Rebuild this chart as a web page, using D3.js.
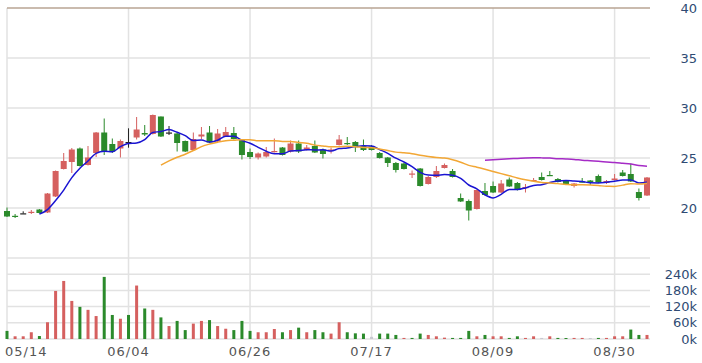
<!DOCTYPE html>
<head>
<meta charset="utf-8">
</head>
<style type="text/css">
  body { margin: 0; background: #fff; }
  svg { display: block; }
  .grid line { stroke: #e2e2e2; stroke-width: 1.5; }
  .ylab { font: 13px "DejaVu Sans", sans-serif; fill: #2f4b73; }
  .xlab { font: 13px "DejaVu Sans", sans-serif; fill: #555; letter-spacing: 1px; }
</style>
<body>
<div class="chart"></div>
<script src="https://d3js.org/d3.v7.min.js"></script>
<script>

// daily candles, 05/14 .. (80 sessions)
var openP  = [19.7,19.22,19.47,19.55,19.85,19.55,21.15,23.9,24.6,25.95,24.3,25.5,27.55,26.4,25.95,26.6,27.05,27.5,27.4,29.15,
              27.55,27.45,26.7,25.8,27.15,27.55,26.65,27.2,27.5,26.8,25.6,25.05,25.15,25.6,26.05,25.65,26.45,25.8,26.2,25.85,
              25.75,26.3,26.5,26.6,26.2,26.15,25.5,25.05,24.5,24.45,23.35,23.95,22.4,23.1,24.0,23.7,21.0,20.7,19.9,21.7,
              22.2,21.55,22.85,22.5,22.0,22.7,23.1,23.3,22.9,22.75,22.2,22.65,22.75,23.2,22.5,22.8,23.55,23.4,21.6,21.25];
var highP  = [20.05,19.4,19.67,19.8,19.9,21.5,23.75,25.5,26.0,26.05,26.2,27.6,28.95,26.95,26.85,27.97,29.1,28.3,29.35,29.15,
              28.2,27.5,26.75,27.55,28.1,28.2,27.9,28.1,28.1,26.85,25.95,25.55,26.1,26.95,26.1,26.75,26.75,26.3,26.75,25.95,
              26.05,27.3,27.1,26.7,26.85,26.3,25.6,25.1,24.6,24.5,23.75,24.0,23.2,24.2,24.45,23.9,21.45,20.85,21.85,22.5,
              22.65,22.8,23.05,22.6,22.4,23.0,23.55,23.7,23.0,22.8,22.5,23.0,22.8,23.35,22.8,23.4,23.8,24.45,21.95,23.1];
var lowP   = [19.1,19.0,19.45,19.4,19.45,19.5,21.1,23.85,23.5,24.15,24.25,25.1,25.3,25.5,25.05,26.03,26.85,27.2,27.35,27.1,
              27.3,25.65,25.6,25.75,26.9,26.5,26.6,27.15,26.85,24.85,24.9,24.85,25.05,25.55,25.25,25.55,25.5,25.75,25.5,24.95,
              25.45,26.25,26.3,25.6,25.7,25.75,24.95,24.1,23.55,23.85,23.0,22.15,22.35,23.0,23.95,23.05,20.6,18.75,19.85,21.25,
              21.5,21.5,22.1,21.75,21.55,22.6,22.75,23.2,22.55,22.3,22.05,22.55,22.3,22.5,22.4,22.75,23.15,22.6,20.75,21.2];
var closeP = [19.15,19.18,19.47,19.62,19.5,21.45,23.7,24.7,25.85,24.2,25.05,27.55,25.7,25.65,26.7,26.6,27.85,27.35,29.3,27.15,
              27.55,26.5,25.65,26.9,27.35,26.55,27.45,27.6,26.9,25.3,25.1,25.45,25.6,25.7,25.3,26.45,25.65,26.05,25.55,25.4,
              25.85,26.85,26.4,26.2,25.8,25.8,25.0,24.5,23.8,23.9,23.45,22.2,23.1,23.7,24.3,23.1,20.65,19.75,21.8,21.3,
              21.55,22.45,22.15,21.8,22.1,22.8,22.8,23.25,22.6,22.35,22.45,22.6,22.6,22.55,22.7,22.95,23.2,22.65,21.0,23.05];
// volume in thousands of shares
var volumeK = [30,10,10,25,11,62,178,215,141,119,108,85,230,89,75,89,198,113,108,80,
               48,67,33,57,67,70,48,38,33,67,30,25,25,37,25,33,42,25,33,25,
               20,62,25,21,20,8,20,20,15,4,4,20,15,10,5,4,4,30,10,15,
               10,10,4,10,4,10,4,10,4,2,4,4,2,4,4,10,10,35,15,15];

var tickIdx    = [0, 15, 30, 45, 60, 75];
var tickLabels = ["05/14", "06/04", "06/26", "07/17", "08/09", "08/30"];
var priceTicks = [20, 25, 30, 35, 40];
var volTicks   = [0, 60, 120, 180, 240];
var maSpans    = [5, 20, 60];
var maColors   = ["#1a14d2", "#f2a735", "#a52bc6"];

var W = 702, H = 363;
var left = 7, right = 650;

var data = closeP.map(function(c, i) {
    return {i: i, o: openP[i], h: highP[i], l: lowP[i], c: c, v: volumeK[i]};
});

var svg = d3.select(".chart").append("svg")
    .attr("width", W)
    .attr("height", H);

var x = d3.scaleLinear().domain([0, data.length - 1]).range([7, 647]);
var y = d3.scaleLinear().domain([20, 40]).range([208, 8]);
var yv = d3.scaleLinear().domain([0, 300]).range([339, 258]);

var up = "#d5605f", down = "#2b8a2b", flat = "#222";

// grid
var grid = svg.append("g").attr("class", "grid");
grid.selectAll(".hp").data(priceTicks.slice(0, -1)).enter().append("line")
    .attr("x1", left).attr("x2", right)
    .attr("y1", function(d) { return y(d); }).attr("y2", function(d) { return y(d); });
grid.selectAll(".hv").data(d3.range(0, 301, 60)).enter().append("line")
    .attr("x1", left).attr("x2", right)
    .attr("y1", function(d) { return yv(d); }).attr("y2", function(d) { return yv(d); });
grid.selectAll(".vx").data(tickIdx).enter().append("line")
    .attr("x1", function(d) { return x(d); }).attr("x2", function(d) { return x(d); })
    .attr("y1", y(40)).attr("y2", yv(0));

svg.append("line")
    .attr("x1", left).attr("x2", right)
    .attr("y1", y(40)).attr("y2", y(40))
    .attr("stroke", "#b9a593").attr("stroke-width", 1.5);

// volume bars, coloured by change from the previous close
svg.append("g").selectAll("rect").data(data).enter().append("rect")
    .attr("x", function(d) { return x(d.i) - 1.5; })
    .attr("width", 3)
    .attr("y", function(d) { return Math.min(yv(d.v), yv(0) - 1); })
    .attr("height", function(d) { return Math.max(1, yv(0) - yv(d.v)); })
    .attr("fill", function(d) {
        var prev = d.i ? data[d.i - 1].c : d.o;
        if (d.c > prev) return up;
        if (d.c < prev) return down;
        return "#c8c8d0";
    });

// candles
var candle = svg.append("g").selectAll("g").data(data).enter().append("g");
function col(d) { return d.c > d.o ? up : (d.c < d.o ? down : flat); }
candle.append("line")
    .attr("x1", function(d) { return x(d.i); }).attr("x2", function(d) { return x(d.i); })
    .attr("y1", function(d) { return y(d.h); }).attr("y2", function(d) { return y(d.l); })
    .attr("stroke", col).attr("stroke-width", 1);
candle.append("rect")
    .attr("x", function(d) { return x(d.i) - 3; })
    .attr("width", 6)
    .attr("y", function(d) { return y(Math.max(d.o, d.c)); })
    .attr("height", function(d) { return Math.max(1.2, Math.abs(y(d.o) - y(d.c))); })
    .attr("fill", col);

// moving averages, drawn over the candles
maSpans.forEach(function(n, k) {
    var pts = data.slice(n - 1).map(function(d) {
        return {i: d.i, m: d3.mean(closeP.slice(d.i - n + 1, d.i + 1))};
    });
    svg.append("path")
        .attr("fill", "none")
        .attr("stroke", maColors[k])
        .attr("stroke-width", 1.5)
        .attr("d", d3.line().curve(d3.curveMonotoneX)
            .x(function(d) { return x(d.i); })
            .y(function(d) { return y(d.m); })(pts));
});

// axes labels
svg.append("g").selectAll("text").data(priceTicks).enter().append("text")
    .attr("class", "ylab")
    .attr("x", 697).attr("y", function(d) { return y(d); })
    .attr("dy", "0.36em").attr("text-anchor", "end")
    .text(function(d) { return d; });
svg.append("g").selectAll("text").data(volTicks).enter().append("text")
    .attr("class", "ylab")
    .attr("x", 697).attr("y", function(d) { return yv(d); })
    .attr("dy", "0.36em").attr("text-anchor", "end")
    .text(function(d) { return d + "k"; });

svg.append("g").selectAll("text").data(tickIdx).enter().append("text")
    .attr("class", "xlab")
    .attr("y", 356)
    .attr("text-anchor", "middle")
    .text(function(d, i) { return tickLabels[i]; })
    .attr("x", function(d) {
        var half = this.getComputedTextLength() / 2;
        return Math.max(x(d), 5 + half);
    });

</script>
</body>
